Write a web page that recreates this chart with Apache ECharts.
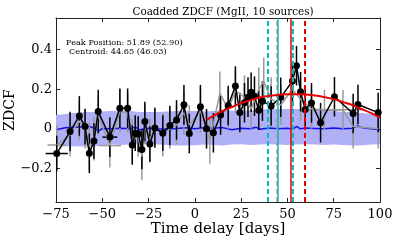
<!DOCTYPE html>
<html><head><meta charset="utf-8">
<script src="https://cdn.jsdelivr.net/npm/echarts@6/dist/echarts.min.js"></script>
<style>html,body{margin:0;padding:0;background:#fff}#c{width:398px;height:241px}</style>
</head><body><div id="c"></div>
<script>
// ---- data ----
const xTicks = [-75, -50, -25, 0, 25, 50, 75, 100];
const yTicks = [-0.2, 0.0, 0.2, 0.4];

const bandX = [-75,-70,-65,-60,-55,-50,-45,-40,-35,-30,-25,-20,-15,-10,-5,0,5,10,15,20,25,30,35,40,45,50,55,60,65,70,75,80,85,90,95,100];
const bandUpper = [0.07,0.075,0.08,0.085,0.085,0.088,0.09,0.092,0.09,0.085,0.085,0.085,0.088,0.09,0.09,0.09,0.088,0.09,0.095,0.092,0.09,0.092,0.095,0.1,0.1,0.1,0.1,0.1,0.098,0.095,0.09,0.085,0.085,0.08,0.075,0.07];
const bandLower = [-0.09,-0.09,-0.088,-0.09,-0.09,-0.085,-0.08,-0.082,-0.08,-0.078,-0.075,-0.08,-0.082,-0.085,-0.085,-0.083,-0.08,-0.082,-0.085,-0.08,-0.078,-0.082,-0.08,-0.078,-0.08,-0.082,-0.08,-0.078,-0.08,-0.082,-0.08,-0.082,-0.085,-0.085,-0.08,-0.078];

const blueX = [-75,-70,-65,-60,-57,-55,-52,-50,-45,-40,-35,-32,-30,-25,-20,-15,-10,-5,0,5,10,15,20,25,30,33,35,40,45,50,53,55,57,60,65,70,75,80,85,88,90,95,100];
const blueY = [-0.005,0.005,0.008,0.01,0.012,0.005,-0.012,0.002,0.0,0.003,0.0,0.008,-0.005,0.003,0.0,-0.002,0.002,0.005,0.0,0.005,0.003,0.006,-0.005,0.003,0.0,0.008,-0.002,0.004,0.0,0.003,-0.002,0.012,0.0,0.004,0.002,0.0,0.004,0.0,0.003,0.015,0.006,0.0,-0.005];

const greyX = [-74.6,-67.4,-62.4,-59.3,-57.0,-54.5,-52.2,-45.9,-40.5,-36.3,-33.8,-30.6,-28.6,-27.0,-24.3,-21.6,-17.3,-13.5,-9.9,-5.9,-3.0,3.0,8.1,13.5,18.0,21.9,26.8,30.4,34.5,37.2,41.2,46.4,52.7,57.1,63.0,70.0,80.0,85.5,99.0];
const greyY = [-0.082,-0.03,0.04,0.0,-0.09,-0.05,0.07,-0.085,0.09,0.08,-0.06,-0.04,-0.14,0.02,-0.06,0.01,-0.03,0.0,0.02,0.08,0.02,0.09,-0.057,0.18,0.1,0.19,0.16,0.1,0.2,0.24,0.15,0.12,0.2,0.15,0.1,0.096,0.096,0.011,0.0];
const greyErr = [0.1,0.11,0.1,0.1,0.12,0.11,0.1,0.11,0.11,0.1,0.11,0.1,0.12,0.1,0.11,0.1,0.11,0.1,0.1,0.11,0.1,0.11,0.12,0.11,0.1,0.11,0.11,0.1,0.11,0.12,0.11,0.1,0.11,0.11,0.1,0.1,0.1,0.11,0.1];
const greyXErr = [5,0,0,0,0,0,0,6,0,0,0,0,0,0,0,0,0,0,0,0,0,0,0,0,0,0,0,0,0,0,0,0,0,0,0,10,10,0,0];

const blackX = [-74.6,-67.4,-62.4,-59.3,-57.0,-54.5,-52.2,-45.9,-40.5,-36.3,-33.8,-32.2,-30.6,-28.6,-27.0,-24.3,-21.6,-17.3,-13.5,-9.9,-5.9,-3.0,3.0,6.3,10.0,13.9,18.0,21.9,24.3,26.8,28.7,30.4,32.2,34.5,36.5,41.2,46.4,52.7,54.9,57.1,59.6,63.0,67.9,75.4,85.5,88.1,99.0];
const blackY = [-0.125,-0.014,0.065,0.011,-0.124,-0.062,0.087,-0.042,0.104,0.104,-0.082,-0.022,-0.026,-0.105,0.037,-0.077,0.004,-0.022,0.017,0.045,0.121,-0.024,0.112,0.0,-0.02,0.07,0.118,0.216,0.082,0.132,0.16,0.185,0.165,0.094,0.14,0.115,0.159,0.241,0.319,0.187,0.097,0.131,0.031,0.162,0.077,0.123,0.082];
const blackErr = [0.09,0.1,0.1,0.09,0.1,0.09,0.11,0.1,0.1,0.1,0.1,0.09,0.09,0.1,0.1,0.09,0.1,0.09,0.1,0.1,0.1,0.1,0.11,0.1,0.1,0.1,0.1,0.1,0.1,0.1,0.1,0.1,0.1,0.1,0.1,0.1,0.1,0.1,0.1,0.1,0.1,0.1,0.1,0.1,0.1,0.1,0.1];
const blackXErr = [6,0,0,0,0,0,0,4,0,0,0,0,0,0,0,0,0,0,0,0,0,0,0,0,0,0,0,0,0,0,0,0,0,0,0,0,0,0,0,0,0,0,0,0,0,0,0];

const redX = [6.3,10,15,20,25,30,35,40,45,50,55,60,65,70,75,80,85,90,95,100];
const redY = [0.045,0.065,0.09,0.11,0.13,0.145,0.158,0.166,0.171,0.175,0.175,0.173,0.168,0.16,0.15,0.135,0.12,0.1,0.08,0.056];

const peakPos = 51.89, peakAlt = 52.90, centroid = 44.65, centroidAlt = 46.03;
const vCyanDash = [39.5, 52.9];
const vCyanSolid = [44.65];
const vRedSolid = [51.89];
const vRedDash = [59.3];
const vSalmonDash = [44.0];

// ---- build ----
const zip = (a, b) => a.map((v, i) => [v, b[i]]);
const fmt = v => {
  let s = Number.isInteger(v) ? String(v) : v.toFixed(1);
  return s.replace('-', '\u2212');
};
const FONT = 'DejaVu Serif';

function errSeries(xs, ys, es, xes, color, width) {
  return {
    type: 'custom', z: 3,
    data: xs.map((x, i) => [x, ys[i], es[i], xes[i]]),
    renderItem: (params, api) => {
      const x = api.value(0), y = api.value(1), e = api.value(2), xe = api.value(3);
      const p1 = api.coord([x, y - e]), p2 = api.coord([x, y + e]);
      const children = [{ type: 'line', shape: { x1: p1[0], y1: p1[1], x2: p2[0], y2: p2[1] }, style: { stroke: color, lineWidth: width } }];
      if (xe > 0) {
        const q1 = api.coord([x - xe, y]), q2 = api.coord([x + xe, y]);
        children.push({ type: 'line', shape: { x1: q1[0], y1: q1[1], x2: q2[0], y2: q2[1] }, style: { stroke: color, lineWidth: width } });
      }
      return { type: 'group', children };
    },
    silent: true
  };
}

function vline(vals, color, dashed, width) {
  return vals.map(v => ({ xAxis: v, lineStyle: { color, type: dashed ? [5, 3] : 'solid', width } }));
}

const chart = echarts.init(document.getElementById('c'), null, { renderer: 'canvas' });
const axisCommon = {
  axisLine: { show: true, onZero: false, lineStyle: { color: '#222', width: 1 } },
  splitLine: { show: false }
};
chart.setOption({
  animation: false,
  backgroundColor: '#fff',
  title: { text: 'Coadded ZDCF (MgII, 10 sources)', left: 218, top: 2, textAlign: 'center',
    textStyle: { fontFamily: FONT, fontSize: 10.4, fontWeight: 'normal', color: '#000' } },
  grid: { left: 56, right: 18, top: 18, bottom: 39, outerBoundsMode: 'none', containLabel: false },
  xAxis: [
    Object.assign({ type: 'value', min: -75, max: 100, interval: 25, position: 'bottom',
      name: 'Time delay [days]', nameLocation: 'middle', nameGap: 20, nameMoveOverlap: false,
      nameTextStyle: { fontFamily: FONT, fontSize: 15, color: '#000' },
      axisTick: { inside: true, length: 4, lineStyle: { color: '#222' } },
      axisLabel: { fontFamily: FONT, fontSize: 13, color: '#000', margin: 6, formatter: fmt } }, axisCommon),
    Object.assign({ type: 'value', min: -75, max: 100, interval: 25, position: 'top',
      axisTick: { inside: true, length: 4, lineStyle: { color: '#222' } },
      axisLabel: { show: false } }, axisCommon)
  ],
  yAxis: [
    Object.assign({ type: 'value', min: -0.37, max: 0.56, position: 'left',
      name: 'ZDCF', nameLocation: 'middle', nameGap: 39, nameRotate: 90, nameMoveOverlap: false,
      nameTextStyle: { fontFamily: FONT, fontSize: 14, color: '#000' },
      axisTick: { inside: true, length: 4, customValues: yTicks, lineStyle: { color: '#222' } },
      axisLabel: { fontFamily: FONT, fontSize: 13, color: '#000', margin: 4, customValues: yTicks, formatter: fmt } }, axisCommon),
    Object.assign({ type: 'value', min: -0.37, max: 0.56, position: 'right',
      axisTick: { inside: true, length: 4, customValues: yTicks, lineStyle: { color: '#222' } },
      axisLabel: { show: false, customValues: yTicks } }, axisCommon)
  ],
  graphic: [
    { type: 'text', left: 66, top: 39, style: { text: 'Peak Position: ' + peakPos.toFixed(2) + ' (' + peakAlt.toFixed(2) + ')', font: '8.2px "DejaVu Serif"', fill: '#000' } },
    { type: 'text', left: 69, top: 48, style: { text: 'Centroid: ' + centroid.toFixed(2) + ' (' + centroidAlt.toFixed(2) + ')', font: '8.2px "DejaVu Serif"', fill: '#000' } }
  ],
  series: [
    {
      type: 'custom', z: 1, silent: true,
      data: bandX.map((x, i) => [x, bandLower[i], bandUpper[i]]),
      renderItem: (params, api) => {
        if (params.dataIndex !== 0) return null;
        const pts = [];
        for (let i = 0; i < bandX.length; i++) pts.push(api.coord([bandX[i], bandUpper[i]]));
        for (let i = bandX.length - 1; i >= 0; i--) pts.push(api.coord([bandX[i], bandLower[i]]));
        return { type: 'polygon', shape: { points: pts }, style: { fill: '#b0b0f6' } };
      }
    },
    { type: 'line', z: 2, data: zip(blueX, blueY), symbol: 'none', lineStyle: { color: '#1010f0', width: 1.5 }, silent: true },
    errSeries(greyX, greyY, greyErr, greyXErr, '#9a9a9a', 1.5),
    { type: 'line', z: 3, data: zip(greyX, greyY), symbol: 'none', lineStyle: { color: '#9a9a9a', width: 1.5 }, silent: true },
    errSeries(blackX, blackY, blackErr, blackXErr, '#000', 1.5),
    { type: 'line', z: 4, data: zip(blackX, blackY), symbol: 'circle', symbolSize: 7,
      itemStyle: { color: '#000' }, lineStyle: { color: '#000', width: 1.5 }, silent: true },
    { type: 'line', z: 5, data: zip(redX, redY), symbol: 'none', smooth: true, lineStyle: { color: '#e60000', width: 2 }, silent: true,
      markLine: { silent: true, symbol: 'none', label: { show: false },
        data: [].concat(vline(vSalmonDash, '#f08080', true, 1.5), vline(vCyanSolid, '#00bfbf', false, 1.5),
          vline(vRedSolid, '#e60000', false, 1.5), vline(vCyanDash, '#00bfbf', true, 2), vline(vRedDash, '#e60000', true, 2)) } }
  ]
});
</script></body></html>
